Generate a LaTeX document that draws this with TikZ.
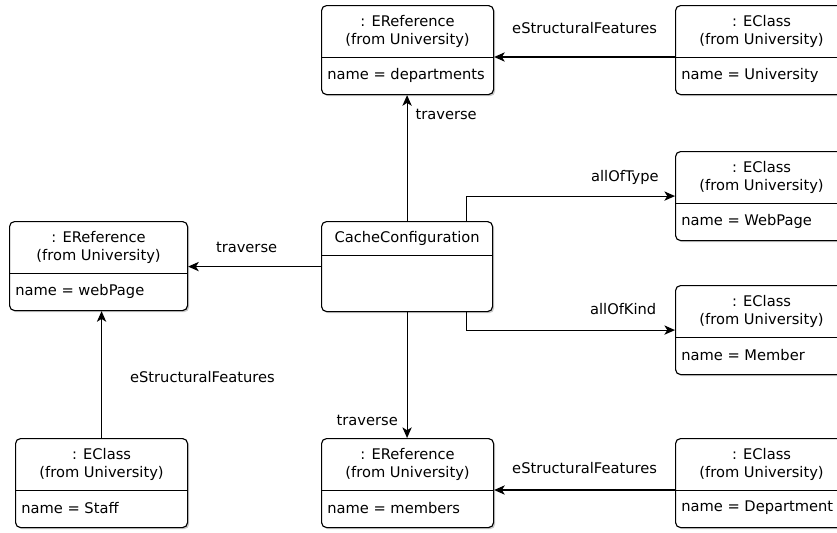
\documentclass[tikz,border=0pt]{standalone}
\usepackage{fontspec}
\setmainfont{DejaVu Sans}
\usetikzlibrary{arrows.meta,shadows}

\tikzset{
  objbox/.style={draw, line width=0.85pt, rounded corners=3.75pt, fill=white, inner sep=0pt,
    anchor=north west, minimum height=66.75pt,
    drop shadow={shadow xshift=1.2pt, shadow yshift=-1.2pt, opacity=0.35, fill=black!60}},
  conn/.style={line width=0.8pt, -{Stealth[length=8pt,width=7pt,inset=2.2pt]}},
  lbl/.style={font=\fontsize{11}{13}\selectfont, inner sep=0pt},
}

% one object box: name, x, y, width, header, attribute
\newcommand{\eobject}[6]{%
  \node[objbox, minimum width=#4] (#1) at (#2,#3) {};
  \draw[line width=0.7pt] ([yshift=-39pt]#1.north west) -- ([yshift=-39pt]#1.north east);
  \node[lbl, align=center, font=\fontsize{11}{13.5}\selectfont] at ([yshift=-19.5pt]#1.north) {#5};
  \node[lbl, anchor=west] at ([xshift=4.5pt,yshift=-52.5pt]#1.north west) {#6};
}

\begin{document}
\begin{tikzpicture}[x=0.75pt, y=-0.75pt]
  \clip (0,0) rectangle (837,532);
  \fill[white] (0,0) rectangle (837,532);

  \eobject{dep}{321}{5}{129pt}{: EReference\\(from University)}{name = departments}
  \eobject{univ}{675}{5}{129pt}{: EClass\\(from University)}{name = University}
  \eobject{wp}{675}{151}{129pt}{: EClass\\(from University)}{name = WebPage}
  \eobject{mem}{675}{285}{129pt}{: EClass\\(from University)}{name = Member}
  \eobject{dept}{675}{438}{129pt}{: EClass\\(from University)}{name = Department}
  \eobject{mems}{321}{438}{129pt}{: EReference\\(from University)}{name = members}
  \eobject{web}{9}{221}{133.5pt}{: EReference\\(from University)}{name = webPage}
  \eobject{staff}{15}{438}{129pt}{: EClass\\(from University)}{name = Staff}

  \node[objbox, minimum width=128.25pt, minimum height=67.5pt] (cache) at (321,221) {};
  \draw[line width=0.7pt] ([yshift=-25.5pt]cache.north west) -- ([yshift=-25.5pt]cache.north east);
  \node[lbl] at ([yshift=-12.75pt]cache.north) {CacheConfiguration};

  % connectors
  \draw[conn] ([yshift=-39pt]univ.north west) -- ([yshift=-39pt]dep.north east)
    node[lbl, pos=0.5, yshift=21.75pt] {eStructuralFeatures};
  \draw[conn] (cache.north) -- (cache.north |- dep.south)
    node[lbl, pos=0.85, anchor=west, xshift=6pt] {traverse};
  \draw[conn] (cache.west) -- (cache.west -| web.east)
    node[lbl, pos=0.56, yshift=14.25pt] {traverse};
  \draw[conn] ([xshift=-20.25pt]cache.north east) |- (wp.west)
    node[lbl, pos=0.88, yshift=14.25pt] {allOfType};
  \draw[conn] ([xshift=-20.25pt]cache.south east) |- (mem.west)
    node[lbl, pos=0.876, yshift=15.75pt] {allOfKind};
  \draw[conn] (cache.south) -- (cache.south |- mems.north)
    node[lbl, pos=0.86, anchor=east, xshift=-6.5pt] {traverse};
  \draw[conn] (staff.north) -- (staff.north |- web.south)
    node[lbl, pos=0.48, anchor=west, xshift=21pt] {eStructuralFeatures};
  \draw[conn] ([yshift=-39pt]dept.north west) -- ([yshift=-39pt]mems.north east)
    node[lbl, pos=0.5, yshift=16.5pt] {eStructuralFeatures};
\end{tikzpicture}
\end{document}
